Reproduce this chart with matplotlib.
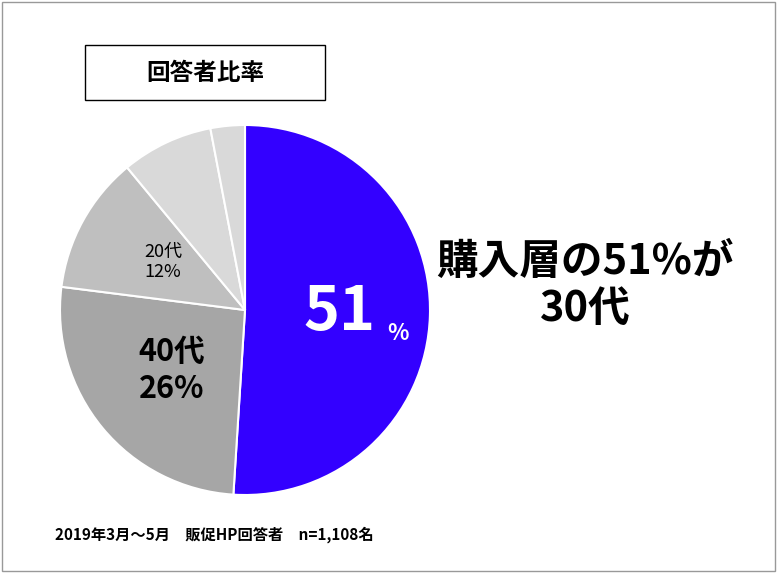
import matplotlib.pyplot as plt
from matplotlib.patches import Rectangle

plt.rcParams['font.family'] = ['Noto Sans CJK JP', 'DejaVu Sans']

labels = ['30代', '40代', '20代', '50代', 'その他']
shares = [51, 26, 12, 8, 3]
colors = ['#3300FF', '#A6A6A6', '#BFBFBF', '#D9D9D9', '#D9D9D9']

W, H = 777, 573
fig = plt.figure(figsize=(W / 100, H / 100), dpi=100)
fig.patches.append(Rectangle((0.003, 0.003), 0.994, 0.994, transform=fig.transFigure,
                             fill=False, edgecolor='#999999', linewidth=1))

# pie: centre (245, 310), radius 185 px
ax = fig.add_axes([60 / W, (H - 495) / H, 370 / W, 370 / H])
ax.pie(shares, colors=colors, startangle=90, counterclock=False,
       wedgeprops=dict(edgecolor='white', linewidth=1.5))
ax.set_xlim(-1, 1)
ax.set_ylim(-1, 1)
ax.set_aspect('equal')

fig.text(340 / W, 1 - 312 / H, '51', color='white', fontsize=44, fontweight='bold',
         ha='center', va='center')
fig.text(398 / W, 1 - 333 / H, '%', color='white', fontsize=16, fontweight='bold',
         ha='center', va='center', zorder=5)
fig.text(172 / W, 1 - 370 / H, '40代\n26%', fontsize=22, fontweight='bold',
         ha='center', va='center', linespacing=1.2)
fig.text(163 / W, 1 - 262 / H, '20代\n12%', fontsize=13,
         ha='center', va='center', linespacing=1.2)

# title box
fig.patches.append(Rectangle((85 / W, 1 - 100 / H), 240 / W, 55 / H, transform=fig.transFigure,
                             fill=False, edgecolor='black', linewidth=1))
fig.text(205 / W, 1 - 73 / H, '回答者比率', fontsize=17, fontweight='bold',
         ha='center', va='center')

fig.text(585 / W, 1 - 285 / H, '購入層の51%が\n30代', fontsize=30, fontweight='bold',
         ha='center', va='center', linespacing=1.15)

fig.text(55 / W, 1 - 535 / H, '2019年3月～5月　販促HP回答者　n=1,108名', fontsize=11,
         fontweight='bold', ha='left', va='center')

fig.savefig('out.png', dpi=100)
